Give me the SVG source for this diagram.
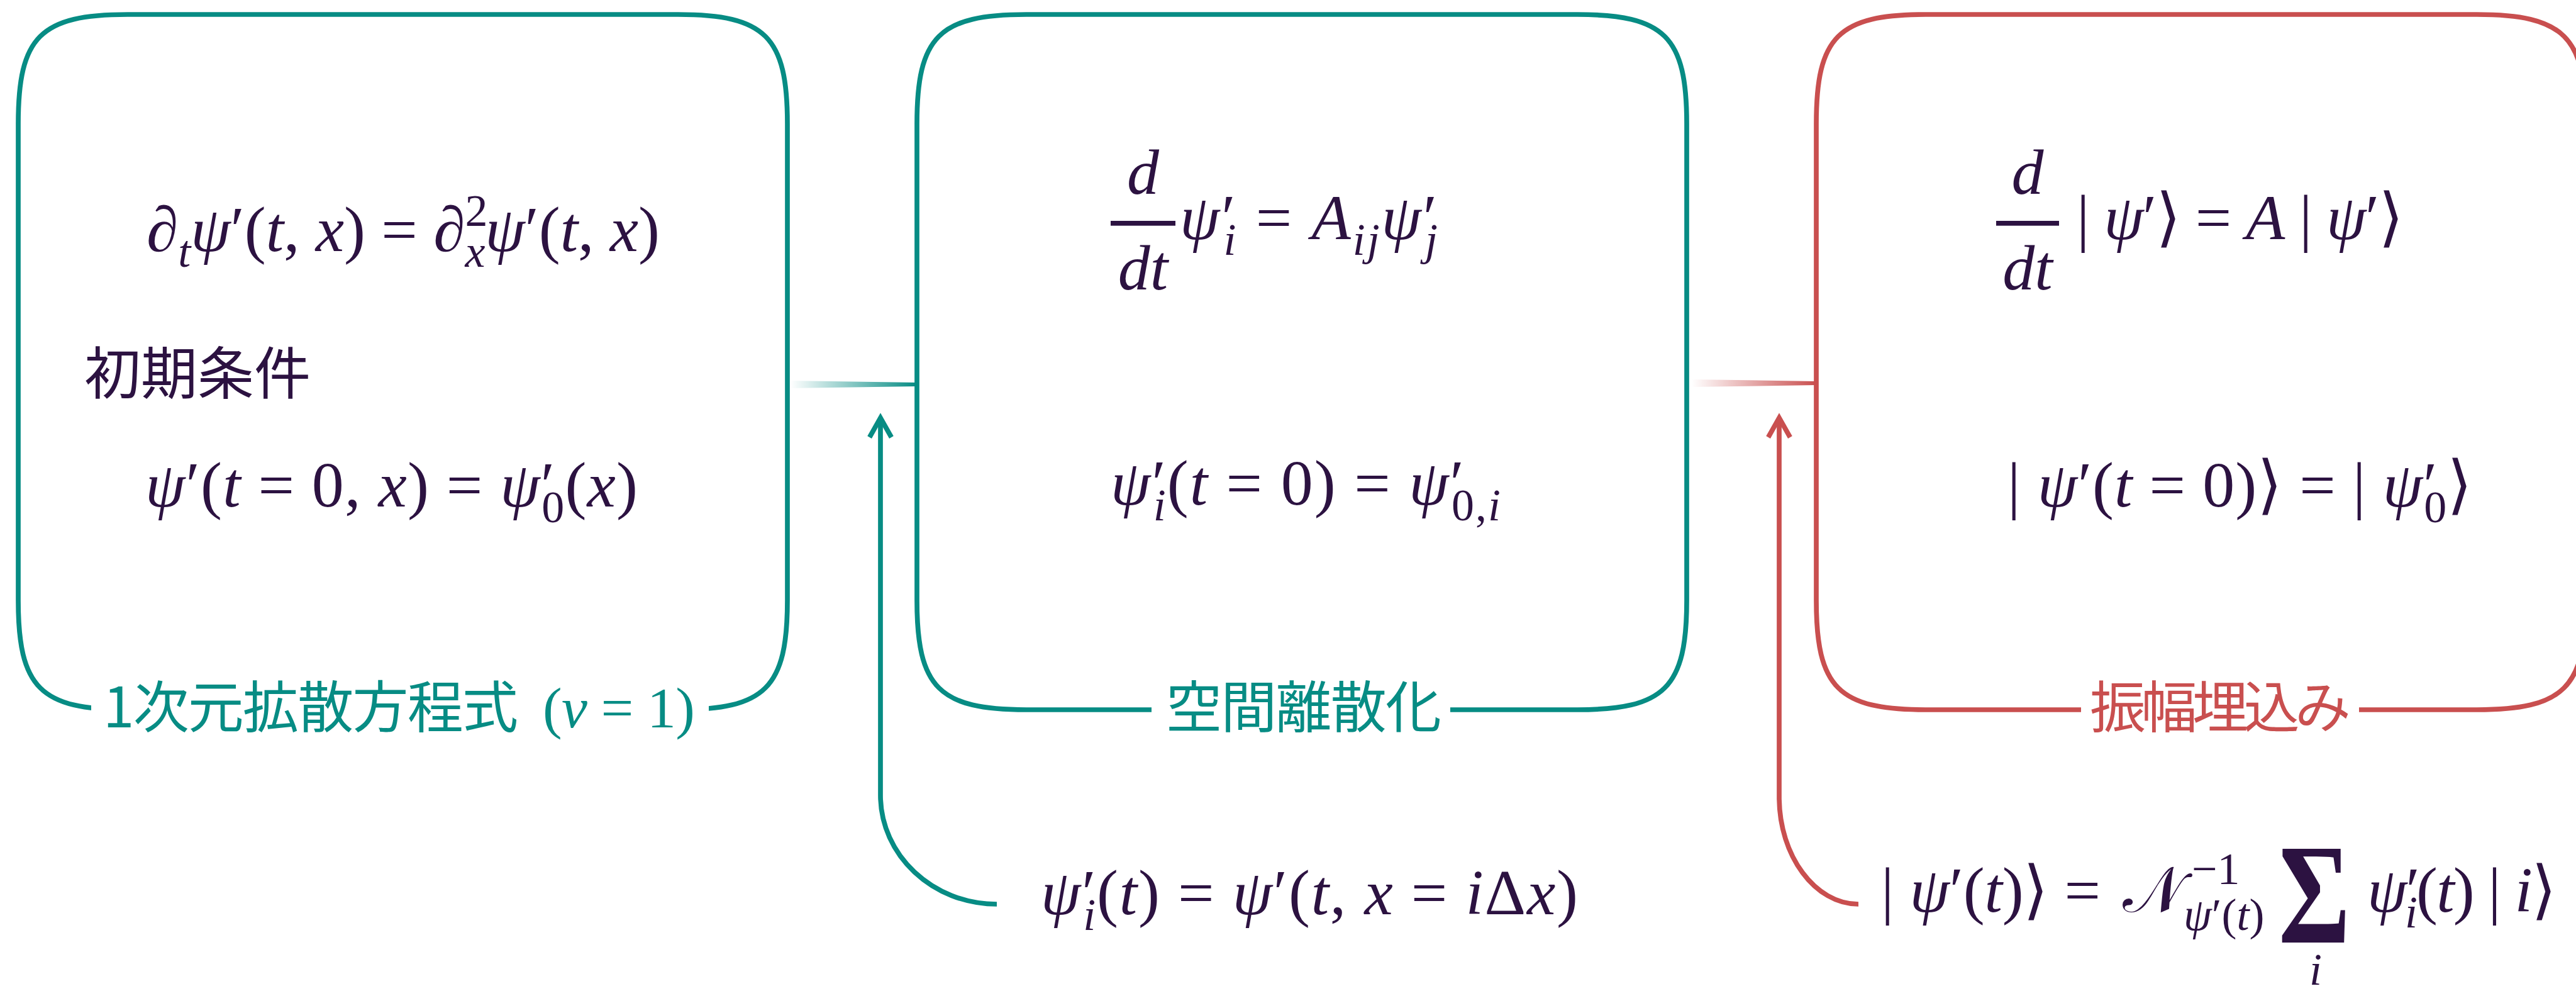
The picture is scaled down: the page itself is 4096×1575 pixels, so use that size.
<svg xmlns="http://www.w3.org/2000/svg" width="4096" height="1575" viewBox="0 0 4096 1575">
<defs>
<style>
.box{fill:none;stroke-width:7.7}
.teal{stroke:#078C84}
.red{stroke:#C94F4F}
.gap{fill:#ffffff}
.m{font-size:102px;fill:#2C1241}
.i{font-style:italic}
.s{font-size:72px}
.cj{font-family:'Noto Sans CJK JP','Noto Sans CJK SC',sans-serif;font-size:89px}
.ink{fill:#2C1241}
.tl{fill:#078C84}
.rl{fill:#C94F4F}
.lm{font-size:92px}
.arrow{fill:none;stroke-width:7.7}
</style>
<linearGradient id="gT" x1="0" y1="0" x2="1" y2="0"><stop offset="0" stop-color="#078C84" stop-opacity="0"/><stop offset="1" stop-color="#078C84" stop-opacity="1"/></linearGradient>
<linearGradient id="gR" x1="0" y1="0" x2="1" y2="0"><stop offset="0" stop-color="#C94F4F" stop-opacity="0"/><stop offset="1" stop-color="#C94F4F" stop-opacity="1"/></linearGradient>
<marker id="hT" markerUnits="userSpaceOnUse" markerWidth="60" markerHeight="60" viewBox="-45 -30 60 60" refX="0" refY="0" orient="auto"><path d="M-31,-17.4 L0,0 L-31,17.4" fill="none" stroke="#078C84" stroke-width="7.7"/></marker>
<marker id="hR" markerUnits="userSpaceOnUse" markerWidth="60" markerHeight="60" viewBox="-45 -30 60 60" refX="0" refY="0" orient="auto"><path d="M-31,-17.4 L0,0 L-31,17.4" fill="none" stroke="#C94F4F" stroke-width="7.7"/></marker>
</defs>
<rect width="4096" height="1575" fill="#ffffff"/>

<g id="connectors">
<polygon points="1257,605 1458,608 1458,614 1257,617" fill="url(#gT)"/>
<polygon points="2690,603 2888,606 2888,612 2690,615" fill="url(#gR)"/>
<path class="arrow teal" d="M1585,1437 C1483,1437 1400,1359 1400,1264 V664" marker-end="url(#hT)"/>
<path class="arrow red" d="M2955,1437 C2886,1437 2829,1360 2829,1267 V664" marker-end="url(#hR)"/>
</g>

<g font-family="Liberation Serif, serif">
<g id="node-diffusion">
<path class="box teal" d="M203,23 H1078 C1217,23 1252,58 1252,197 V954 C1252,1093 1217,1128 1078,1128 H203 C64,1128 29,1093 29,954 V197 C29,58 64,23 203,23 Z"/>
<rect class="gap" x="145" y="1112" width="982" height="32"/>
<text class="m" x="233" y="399" textLength="816"><tspan class="i">∂</tspan><tspan class="i s" dy="25">t</tspan><tspan class="i" dy="-25">ψ</tspan>′(<tspan class="i">t</tspan>, <tspan class="i">x</tspan>) = <tspan class="i">∂</tspan><tspan class="s" dy="-40">2</tspan><tspan class="i s" dx="-36" dy="65">x</tspan><tspan class="i" dy="-25">ψ</tspan>′(<tspan class="i">t</tspan>, <tspan class="i">x</tspan>)</text>
<text class="cj ink" x="134" y="626" style="font-size:90px">初期条件</text>
<text class="m" x="231" y="805" textLength="783"><tspan class="i">ψ</tspan>′(<tspan class="i">t</tspan> = 0, <tspan class="i">x</tspan>) = <tspan class="i">ψ</tspan>′<tspan class="s" dx="-22" dy="25">0</tspan><tspan dy="-25">(</tspan><tspan class="i">x</tspan>)</text>
<text class="cj tl" x="164" y="1156" textLength="660">1次元拡散方程式</text>
<text class="m tl lm" x="863" y="1156" textLength="242">(<tspan class="i">ν</tspan> = 1)</text>
</g>

<g id="node-discretize">
<path class="box teal" d="M1632,23 H2508 C2647,23 2682,58 2682,197 V954 C2682,1093 2647,1128 2508,1128 H1632 C1493,1128 1458,1093 1458,954 V197 C1458,58 1493,23 1632,23 Z"/>
<rect class="gap" x="1831" y="1112" width="475" height="32"/>
<text class="m i" x="1817.5" y="308" text-anchor="middle">d</text>
<rect class="ink" x="1766" y="351" width="103" height="7.7"/>
<text class="m i" x="1817.5" y="460" text-anchor="middle">dt</text>
<text class="m" x="1876" y="380" textLength="412"><tspan class="i">ψ</tspan>′<tspan class="i s" dx="-22" dy="25">i</tspan><tspan dy="-25"> = </tspan><tspan class="i">A</tspan><tspan class="i s" dy="25">ij</tspan><tspan class="i" dy="-25">ψ</tspan>′<tspan class="i s" dx="-22" dy="25">j</tspan></text>
<text class="m" x="1766" y="802" textLength="620"><tspan class="i">ψ</tspan>′<tspan class="i s" dx="-22" dy="25">i</tspan><tspan dy="-25">(</tspan><tspan class="i">t</tspan> = 0) = <tspan class="i">ψ</tspan>′<tspan class="s" dx="-22" dy="25">0,</tspan><tspan class="i s">i</tspan></text>
<text class="cj tl" x="1854" y="1156" textLength="438">空間離散化</text>
</g>

<g id="node-embedding">
<path class="box red" d="M3062,23 H3938 C4077,23 4112,58 4112,197 V954 C4112,1093 4077,1128 3938,1128 H3062 C2923,1128 2888,1093 2888,954 V197 C2888,58 2923,23 3062,23 Z"/>
<rect class="gap" x="3309" y="1112" width="442" height="32"/>
<text class="m i" x="3224" y="308" text-anchor="middle">d</text>
<rect class="ink" x="3174" y="351" width="100" height="7.7"/>
<text class="m i" x="3224" y="460" text-anchor="middle">dt</text>
<text class="m" x="3302" y="380" textLength="520">| <tspan class="i">ψ</tspan>′⟩ = <tspan class="i">A</tspan> | <tspan class="i">ψ</tspan>′⟩</text>
<text class="m" x="3192" y="805" textLength="739">| <tspan class="i">ψ</tspan>′(<tspan class="i">t</tspan> = 0)⟩ = | <tspan class="i">ψ</tspan>′<tspan class="s" dx="-22" dy="25">0</tspan><tspan dy="-25">⟩</tspan></text>
<text class="cj rl" x="3323" y="1156" textLength="415">振幅埋込み</text>
</g>

<g id="note-discretize">
<text class="m" x="1655" y="1453" textLength="854"><tspan class="i">ψ</tspan>′<tspan class="i s" dx="-22" dy="25">i</tspan><tspan dy="-25">(</tspan><tspan class="i">t</tspan>) = <tspan class="i">ψ</tspan>′(<tspan class="i">t</tspan>, <tspan class="i">x</tspan> = <tspan class="i">i</tspan>Δ<tspan class="i">x</tspan>)</text>
</g>

<g id="note-embedding">
<text class="m" x="2991" y="1449" textLength="349">| <tspan class="i">ψ</tspan>′(<tspan class="i">t</tspan>)⟩ =</text>
<text class="m" x="3375" y="1449">𝒩</text>
<text class="m s" x="3485" y="1405">−1</text>
<text class="m s" x="3472" y="1478"><tspan class="i">ψ</tspan>′(<tspan class="i">t</tspan>)</text>
<text class="m" x="3623" y="1498" style="font-size:226px;font-weight:bold" textLength="114" lengthAdjust="spacingAndGlyphs">Σ</text>
<text class="m s i" x="3672" y="1565">i</text>
<text class="m" x="3764" y="1449" textLength="301"><tspan class="i">ψ</tspan>′<tspan class="i s" dx="-22" dy="25">i</tspan><tspan dy="-25">(</tspan><tspan class="i">t</tspan>) | <tspan class="i">i</tspan>⟩</text>
</g>
</g>
</svg>
